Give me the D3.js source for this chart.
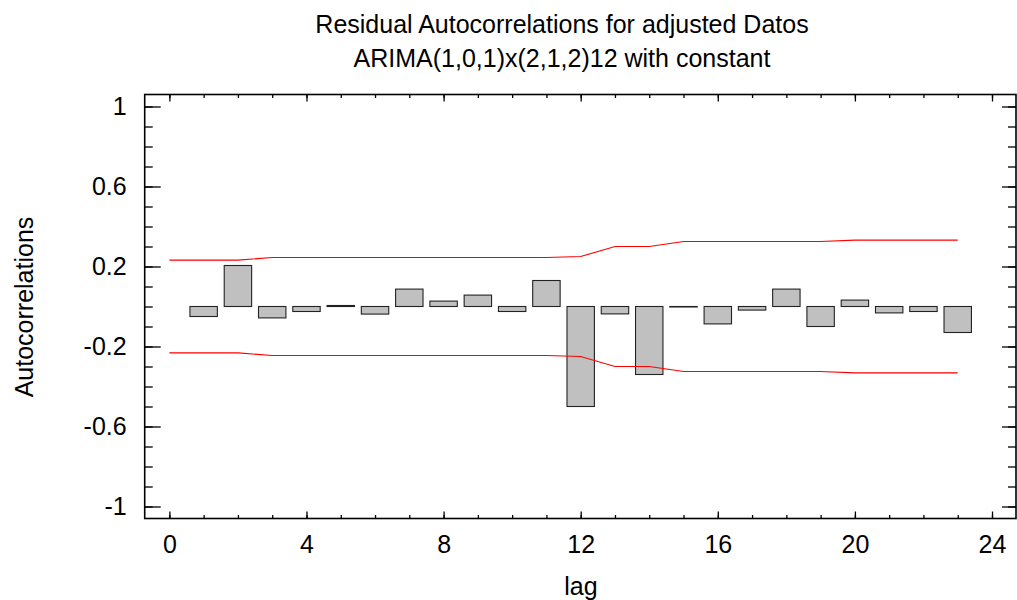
<!DOCTYPE html>
<html>
<head>
<meta charset="utf-8">
<script src="https://cdn.jsdelivr.net/npm/d3@7"></script>
<style>
  html, body { margin: 0; padding: 0; background: #fff; }
  svg { display: block; font-family: "Liberation Sans", Arial, sans-serif; }
</style>
</head>
<body>
<svg id="chart" width="1017" height="600"></svg>
<script>
// ---- data ----
const titleLines = ["Residual Autocorrelations for adjusted Datos", "ARIMA(1,0,1)x(2,1,2)12 with constant"];
const xLabel = "lag";
const yLabel = "Autocorrelations";
const lags = [1,2,3,4,5,6,7,8,9,10,11,12,13,14,15,16,17,18,19,20,21,22,23];
const acf  = [-0.05,0.205,-0.057,-0.025,0.005,-0.038,0.087,0.027,0.057,-0.025,0.13,-0.5,
              -0.037,-0.34,-0.002,-0.087,-0.018,0.087,-0.1,0.032,-0.032,-0.025,-0.13];
const limitLags = [0,1,2,3,4,5,6,7,8,9,10,11,12,13,14,15,16,17,18,19,20,21,22,23];
const upperLimit = [0.232,0.232,0.232,0.245,0.245,0.245,0.245,0.245,0.245,0.245,0.245,0.245,
                    0.25,0.30,0.30,0.325,0.325,0.325,0.325,0.325,0.332,0.332,0.332,0.332];
const lowerLimit = [-0.232,-0.232,-0.232,-0.245,-0.245,-0.245,-0.245,-0.245,-0.245,-0.245,-0.245,-0.245,
                    -0.25,-0.30,-0.30,-0.325,-0.325,-0.325,-0.325,-0.325,-0.332,-0.332,-0.332,-0.332];
const xMajorTicks = [0,4,8,12,16,20,24];
const yMajorTicks = [-1,-0.6,-0.2,0.2,0.6,1];
const yTickLabels = ["-1","-0.6","-0.2","0.2","0.6","1"];

// ---- layout ----
const L = 144.7, R = 1016, T = 94.5, B = 518.5;
const svg = d3.select("#chart");
const x = d3.scaleLinear().domain([-0.72, 24.7]).range([L, R]);
const y = d3.scaleLinear().domain([-1.06, 1.06]).range([B, T]);
const fs = 25;
const barW = 0.8;

const xMinor = d3.range(0, 25, 1);
const yMinor = d3.range(-10, 11, 1).map(d => d / 10);

// bars
svg.append("g").selectAll("rect").data(lags.map((l, i) => ({l, v: acf[i]})))
  .join("rect")
  .attr("x", d => x(d.l - barW / 2))
  .attr("width", d => x(d.l + barW / 2) - x(d.l - barW / 2))
  .attr("y", d => y(Math.max(0, d.v)))
  .attr("height", d => Math.max(0.5, Math.abs(y(d.v) - y(0))))
  .attr("fill", "#c0c0c0")
  .attr("stroke", "#222")
  .attr("stroke-width", 1.1);

// limit lines
const line = d3.line().x(d => x(d[0])).y(d => y(d[1]));
svg.append("path").datum(limitLags.map((l, i) => [l, upperLimit[i]]))
  .attr("d", line).attr("fill", "none").attr("stroke", "#ff0000").attr("stroke-width", 1.2);
svg.append("path").datum(limitLags.map((l, i) => [l, lowerLimit[i]]))
  .attr("d", line).attr("fill", "none").attr("stroke", "#ff0000").attr("stroke-width", 1.2);

// axes helper
function styleAxis(g) {
  g.select(".domain").remove();
  g.selectAll("line").attr("stroke", "#000").attr("stroke-width", 1.3);
  g.selectAll("text").attr("fill", "#000").style("font-size", fs + "px")
    .style("font-family", '"Liberation Sans", Arial, sans-serif');
}

// left axis
svg.append("g").attr("transform", `translate(${L},0)`)
  .call(d3.axisLeft(y).tickValues(yMinor).tickSize(-8).tickFormat(""))
  .call(styleAxis);
svg.append("g").attr("transform", `translate(${L},0)`)
  .call(d3.axisLeft(y).tickValues(yMajorTicks).tickSize(-16).tickPadding(18)
    .tickFormat((d, i) => yTickLabels[i]))
  .call(styleAxis);
// right axis
svg.append("g").attr("transform", `translate(${R},0)`)
  .call(d3.axisRight(y).tickValues(yMinor).tickSize(-8).tickFormat(""))
  .call(styleAxis);
svg.append("g").attr("transform", `translate(${R},0)`)
  .call(d3.axisRight(y).tickValues(yMajorTicks).tickSize(-14).tickFormat(""))
  .call(styleAxis);
// bottom axis
svg.append("g").attr("transform", `translate(0,${B})`)
  .call(d3.axisBottom(x).tickValues(xMinor).tickSize(-3.5).tickFormat(""))
  .call(styleAxis);
svg.append("g").attr("transform", `translate(0,${B})`)
  .call(d3.axisBottom(x).tickValues(xMajorTicks).tickSize(-7).tickPadding(17).tickFormat(d => String(d)))
  .call(styleAxis);
// top axis
svg.append("g").attr("transform", `translate(0,${T})`)
  .call(d3.axisTop(x).tickValues(xMinor).tickSize(-3.5).tickFormat(""))
  .call(styleAxis);
svg.append("g").attr("transform", `translate(0,${T})`)
  .call(d3.axisTop(x).tickValues(xMajorTicks).tickSize(-7).tickFormat(""))
  .call(styleAxis);

// frame
svg.append("rect").attr("x", L).attr("y", T).attr("width", R - L).attr("height", B - T)
  .attr("fill", "none").attr("stroke", "#000").attr("stroke-width", 1.6);

// titles
svg.append("g").selectAll("text").data(titleLines).join("text")
  .attr("x", 562).attr("y", (d, i) => 33.3 + i * 33.4)
  .attr("text-anchor", "middle").style("font-size", fs + "px").attr("fill", "#000")
  .text(d => d);

svg.append("text").attr("x", 581).attr("y", 595).attr("text-anchor", "middle")
  .style("font-size", fs + "px").attr("fill", "#000").text(xLabel);

svg.append("text").attr("transform", "translate(33,307) rotate(-90)").attr("text-anchor", "middle")
  .style("font-size", fs + "px").attr("fill", "#000").text(yLabel);
</script>
</body>
</html>
